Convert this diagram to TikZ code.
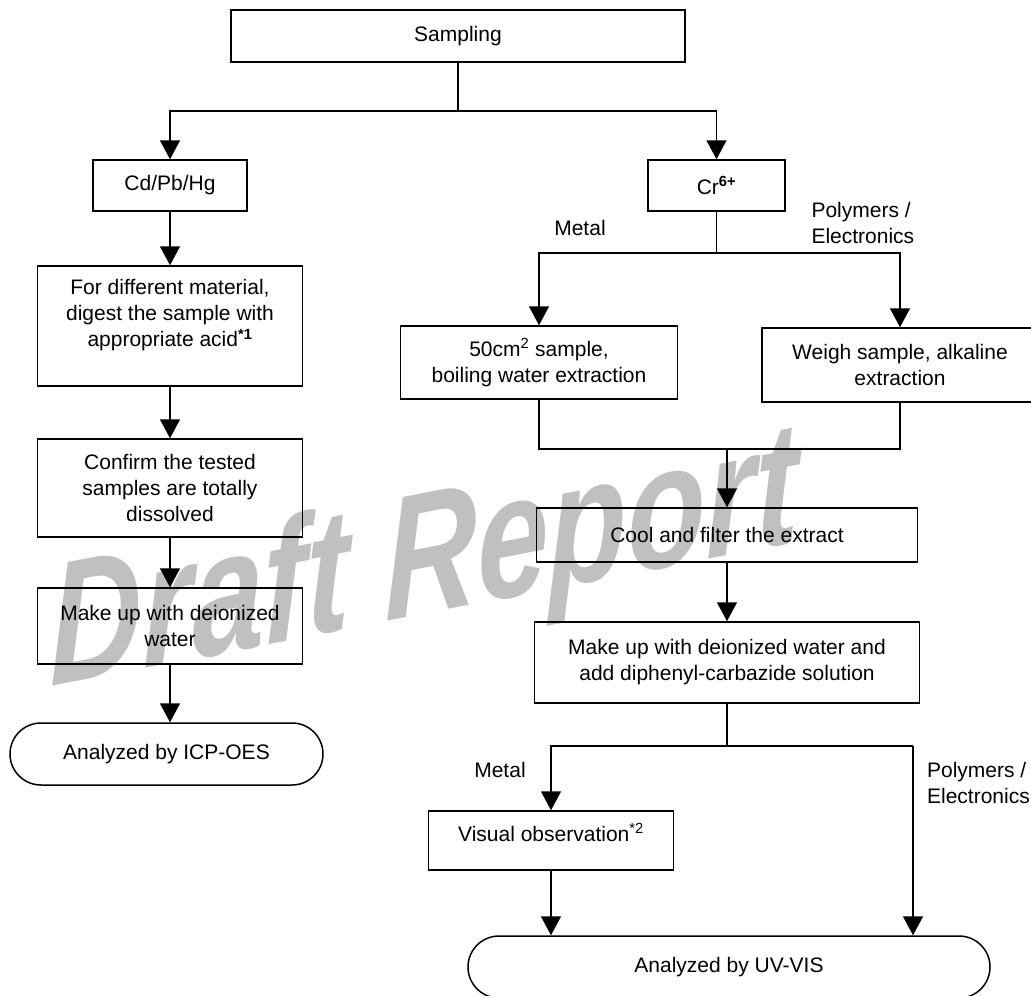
\documentclass[tikz,border=0pt]{standalone}
\usepackage{fontspec}
\setmainfont{Liberation Sans}
\usepackage{tikz}
\usetikzlibrary{arrows.meta,shapes.misc}
\definecolor{wmgray}{RGB}{192,192,192}
\tikzset{
  box/.style={draw,line width=1.5pt,rectangle,inner sep=0pt,align=center},
  endbox/.style={draw,line width=1.5pt,rounded rectangle,inner sep=0pt,align=center},
  ln/.style={line width=1.5pt},
  arr/.style={line width=1.5pt,-{Triangle[width=20pt,length=19pt]}}
}

\begin{document}
\begin{tikzpicture}[x=1pt,y=-1pt,font=\fontsize{21}{26}\selectfont]
\useasboundingbox (0,0) rectangle (1031,996);
% watermark
\node[anchor=base,rotate=11,xslant=0.18,text=wmgray,font=\fontsize{172}{172}\selectfont\bfseries\itshape] (wm) at (425,614) {\scalebox{0.76}[1]{Draft Report}};
% boxes
\node[box,minimum width=454,minimum height=52] (samp) at (458,36) {Sampling};
\node[box,minimum width=154,minimum height=51] (cd) at (170,185.5) {Cd/Pb/Hg};
\node[box,minimum width=265,minimum height=120] (dig) at (170,326) {For different material,\\ digest the sample with\\ appropriate acid\textsuperscript{\textbf{*1}}\\ \mbox{}};
\node[box,minimum width=265,minimum height=98] (conf) at (170,488) {Confirm the tested\\ samples are totally\\ dissolved};
\node[box,minimum width=265,minimum height=76] (mkup) at (170,626) {Make up with deionized\\ water};
\node[endbox,minimum width=313,minimum height=62] (icp) at (166.5,754) {Analyzed by ICP-OES};
\node[box,minimum width=137,minimum height=51] (cr) at (716.5,185.5) {Cr\textsuperscript{\textbf{6+}}};
\node[box,minimum width=277,minimum height=73] (boil) at (539,362.5) {50cm\textsuperscript{2} sample,\\ boiling water extraction};
\node[box,minimum width=276,minimum height=74] (alk) at (900,365) {Weigh sample, alkaline\\ extraction};
\node[box,minimum width=381,minimum height=54] (cool) at (727,535) {Cool and filter the extract};
\node[box,minimum width=385,minimum height=81] (dpc) at (727,662.5) {Make up with deionized water and\\ add diphenyl-carbazide solution};
\node[box,minimum width=245,minimum height=59] (vis) at (551,840.5) {Visual observation\textsuperscript{*2}\\[-10pt] \mbox{}};
\node[endbox,minimum width=522,minimum height=62] (uv) at (729,967) {Analyzed by UV-VIS};
% branch labels
\node (met1) at (580,228) {Metal};
\node[anchor=west,align=left] (pol1) at (808,223) {Polymers /\\ Electronics};
\node (met2) at (500,770) {Metal};
\node[anchor=east,align=left,inner xsep=1pt] (pol2) at (1031,783) {Polymers /\\ Electronics};
% connectors
\coordinate (s1) at (458,111);
\draw[ln] (samp.south) -- (s1);
\draw[arr] (s1) -| (cd.north);
\draw[arr] (s1) -| (cr.north);
\draw[arr] (cd.south) -- (dig.north);
\draw[arr] (dig.south) -- (conf.north);
\draw[arr] (conf.south) -- (mkup.north);
\draw[arr] (mkup.south) -- (mkup.south |- icp.north);
\coordinate (s2) at (716.5,253);
\draw[ln] (cr.south) -- (s2);
\draw[arr] (s2) -| (boil.north);
\draw[arr] (s2) -| (alk.north);
\coordinate (m1) at (727,449);
\draw[ln] (boil.south) |- (m1);
\draw[ln] (alk.south) |- (m1);
\draw[arr] (m1) -- (cool.north);
\draw[arr] (cool.south) -- (dpc.north);
\coordinate (s3) at (727,746);
\coordinate (r3) at (913,746);
\draw[ln] (dpc.south) -- (s3);
\draw[arr] (s3) -| (vis.north);
\draw[ln] (s3) -- (r3);
\draw[arr] (r3) -- (r3 |- uv.north);
\draw[arr] (vis.south) -- (vis.south |- uv.north);
\end{tikzpicture}
\end{document}
